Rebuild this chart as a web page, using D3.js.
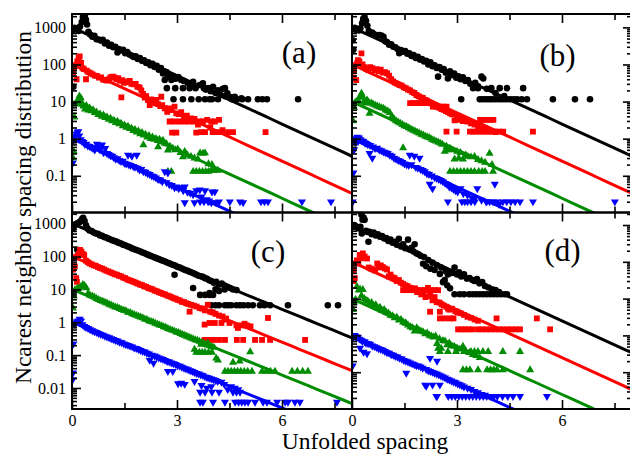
<!DOCTYPE html>
<html><head><meta charset="utf-8">
<script src="https://cdn.jsdelivr.net/npm/d3@7"></script>
<style>body{margin:0;background:#fff}svg{display:block}
svg text{font-family:"Liberation Serif","Times New Roman","DejaVu Serif",serif}</style>
</head><body>
<svg id="chart" width="630" height="459"></svg>
<script>
// Axis ticks and labels
const sMajorTicks = [0, 3, 6];
const sMinorTicks = [1.5, 4.5, 7.5];
const yMajorTicks = [1000, 100, 10, 1, 0.1, 0.01];
const yTickText = ["1000", "100", "10", "1", "0.1", "0.01"];
const fitAmplitudes = [1000, 100, 10, 1];
const panelNames = ["(a)", "(b)", "(c)", "(d)"];
const xTitle = "Unfolded spacing";
const yTitle = "Ncarest neighbor spacing distribution";

// Panel (a): [unfolded spacing, distribution]
const aBlack = [[0.02,60],[0.04,25],[0.03,850],[0.07,980],[0.11,900],[0.15,930],[0.19,800],[0.23,1050],[0.28,1400],[0.31,1900],[0.34,2600],[0.37,2100],[0.4,1600],[0.43,1200],[0.47,760],[0.52,640],[0.58,560],[0.64,590],[0.7,480],[0.76,470],[0.82,440],[0.88,460],[0.94,370],[1.0,390],[1.06,320],[1.12,340],[1.18,290],[1.24,300],[1.3,210],[1.34,260],[1.4,240],[1.46,250],[1.52,200],[1.58,215],[1.64,185],[1.7,175],[1.76,160],[1.82,165],[1.88,140],[1.94,150],[2.0,125],[2.06,130],[2.12,110],[2.18,115],[2.24,95],[2.3,105],[2.36,85],[2.42,92],[2.48,72],[2.54,80],[2.6,57],[2.62,66],[2.65,38],[2.7,62],[2.74,47],[2.8,52],[2.84,38],[2.9,45],[2.96,41],[3.04,46],[3.12,38],[3.2,36],[3.31,31],[3.38,29],[3.46,34],[3.55,26],[3.65,28],[3.74,31],[3.82,21],[3.89,23],[3.96,19],[4.03,25],[4.1,17],[4.17,20],[4.25,15],[4.31,22],[4.38,14],[4.44,16.6],[4.55,13],[4.65,13.5],[4.84,12.3],[2.71,23],[2.95,23],[3.17,23],[3.36,23],[3.53,23],[3.77,23],[4.37,23],[2.9,11.5],[3.17,11.5],[3.41,11.5],[3.62,11.5],[3.8,11.5],[3.93,11.5],[4.0,11.5],[4.17,11.5],[4.57,11.5],[4.71,11.5],[4.86,11.5],[5.03,11.5],[5.31,11.5],[5.44,11.5],[5.57,11.5],[6.46,11.5]];
const aRed = [[0.03,60],[0.06,85],[0.09,95],[0.13,40],[0.15,120],[0.19,150],[0.22,165],[0.26,110],[0.3,80],[0.34,75],[0.4,40],[0.42,68],[0.47,62],[0.53,58],[0.59,54],[0.65,50],[0.71,49],[0.77,44],[0.83,45],[0.89,39],[0.95,38],[1.01,37],[1.07,42],[1.12,46],[1.17,47],[1.22,44],[1.27,40],[1.32,43],[1.37,36],[1.41,13],[1.43,38],[1.48,32],[1.54,35],[1.6,33],[1.65,36],[1.7,30],[1.76,29],[1.82,30],[1.87,25],[1.93,24],[1.98,20],[2.03,16],[2.08,12.9],[2.12,14],[2.17,11],[2.22,8],[2.26,11.5],[2.32,10],[2.38,9],[2.41,11],[2.46,8.5],[2.52,7.5],[2.55,13.5],[2.58,8],[2.65,6.6],[2.72,5.3],[2.77,6.5],[2.84,5.9],[2.93,7.3],[2.98,4.8],[3.05,4.6],[3.12,5.2],[3.2,3.8],[3.28,4.2],[3.4,3.5],[3.5,3.4],[3.6,2.4],[3.95,2.0],[4.3,1.7],[2.79,2.9],[2.93,2.9],[3.08,2.9],[3.22,2.9],[3.36,2.9],[3.5,2.9],[3.65,2.9],[3.74,2.9],[3.86,3.2],[3.98,2.9],[4.08,2.9],[4.2,3.2],[2.86,1.45],[2.98,1.45],[3.55,1.45],[3.68,1.5],[3.8,1.5],[4.02,1.5],[4.15,1.5],[4.3,1.5],[4.46,1.5],[4.6,1.5],[5.53,1.5]];
const aGreen = [[0.03,0.3],[0.05,0.45],[0.07,3.8],[0.09,8.5],[0.13,9.5],[0.17,11],[0.21,14],[0.25,12.5],[0.29,9],[0.33,7.5],[0.37,6.2],[0.41,7.8],[0.46,5.9],[0.5,6.8],[0.55,5.6],[0.6,6.0],[0.65,5.0],[0.7,5.2],[0.75,4.4],[0.8,4.6],[0.85,4.0],[0.9,4.3],[0.95,3.7],[1.0,3.8],[1.05,3.3],[1.1,3.5],[1.15,3.0],[1.2,3.1],[1.25,2.7],[1.3,2.9],[1.35,2.5],[1.4,2.6],[1.45,2.2],[1.5,2.3],[1.55,2.0],[1.6,2.15],[1.65,1.85],[1.7,1.9],[1.75,1.65],[1.8,1.75],[1.85,1.5],[1.9,1.6],[1.95,1.35],[2.0,1.45],[2.04,0.68],[2.05,1.25],[2.1,1.3],[2.15,1.1],[2.2,1.2],[2.25,1.0],[2.3,1.1],[2.35,0.95],[2.4,1.0],[2.45,0.88],[2.46,0.6],[2.5,0.95],[2.55,0.82],[2.6,0.9],[2.65,0.75],[2.7,0.72],[2.74,0.49],[2.8,0.62],[2.88,0.55],[2.95,0.5],[3.02,0.52],[3.1,0.42],[3.17,0.32],[3.22,0.45],[3.3,0.36],[3.4,0.33],[3.5,0.3],[3.6,0.28],[3.66,0.41],[3.74,0.4],[3.8,0.41],[3.9,0.21],[4.0,0.2],[2.74,0.13],[2.84,0.13],[3.46,0.13],[3.55,0.13],[3.64,0.13],[3.73,0.13],[3.82,0.13],[3.9,0.13],[3.98,0.14],[4.07,0.14],[4.17,0.14]];
const aBlue = [[0.02,0.22],[0.04,0.9],[0.07,1.05],[0.1,1.2],[0.13,1.35],[0.16,1.5],[0.18,1.55],[0.21,1.2],[0.25,0.95],[0.29,0.85],[0.33,0.8],[0.37,0.7],[0.41,0.72],[0.45,0.64],[0.5,0.62],[0.55,0.58],[0.6,0.55],[0.65,0.5],[0.71,0.72],[0.76,0.6],[0.8,0.5],[0.86,0.68],[0.9,0.42],[0.95,0.55],[1.0,0.4],[1.05,0.38],[1.1,0.35],[1.15,0.34],[1.2,0.31],[1.25,0.28],[1.3,0.29],[1.35,0.26],[1.4,0.245],[1.45,0.25],[1.5,0.22],[1.55,0.21],[1.6,0.36],[1.62,0.2],[1.67,0.19],[1.71,0.34],[1.75,0.18],[1.8,0.17],[1.85,0.36],[1.88,0.16],[1.93,0.145],[1.98,0.15],[2.04,0.13],[2.1,0.125],[2.16,0.115],[2.22,0.11],[2.28,0.1],[2.34,0.095],[2.4,0.088],[2.46,0.08],[2.52,0.078],[2.58,0.07],[2.65,0.13],[2.7,0.066],[2.74,0.12],[2.78,0.058],[2.85,0.055],[2.93,0.048],[2.98,0.05],[3.05,0.045],[3.12,0.048],[3.18,0.04],[3.22,0.05],[3.3,0.036],[3.38,0.034],[3.46,0.031],[3.55,0.04],[3.65,0.042],[3.7,0.027],[3.8,0.04],[3.85,0.023],[3.92,0.021],[4.0,0.037],[4.08,0.037],[3.22,0.019],[3.5,0.019],[3.66,0.02],[3.77,0.02],[3.89,0.02],[3.98,0.019],[4.12,0.019],[4.2,0.02],[4.51,0.02],[4.8,0.02],[4.89,0.019],[5.4,0.02],[5.5,0.02],[5.6,0.02],[6.57,0.02],[7.4,0.02]];

// Panel (b)
const bBlack = [[0.02,450],[0.04,250],[0.05,900],[0.08,980],[0.12,850],[0.16,900],[0.2,820],[0.24,950],[0.29,1300],[0.32,1700],[0.36,1900],[0.4,1500],[0.44,1100],[0.48,800],[0.53,700],[0.58,720],[0.63,650],[0.68,620],[0.73,600],[0.78,620],[0.84,600],[0.9,560],[0.95,420],[1.0,400],[1.06,340],[1.12,350],[1.18,300],[1.24,290],[1.3,260],[1.35,200],[1.4,245],[1.46,220],[1.52,230],[1.58,195],[1.64,200],[1.7,170],[1.76,180],[1.82,150],[1.88,160],[1.94,135],[2.0,140],[2.06,120],[2.12,125],[2.18,100],[2.24,115],[2.3,90],[2.36,95],[2.42,80],[2.46,47],[2.5,85],[2.56,72],[2.62,75],[2.68,60],[2.74,42],[2.8,65],[2.84,51],[2.92,57],[2.98,44],[3.04,48],[3.1,40],[3.17,45],[3.24,36],[3.31,38],[3.38,30],[3.46,23],[3.52,32],[3.6,26],[3.7,47],[3.75,42],[3.85,22],[3.98,23],[4.1,17],[4.22,23],[4.35,14],[4.89,23],[3.12,11.5],[3.65,11.5],[3.72,11.5],[3.8,11.5],[3.88,11.5],[3.95,11.5],[4.02,11.5],[4.1,11.5],[4.18,11.5],[4.26,11.5],[4.34,11.5],[4.42,11.5],[4.52,11.5],[4.62,11.5],[4.72,11.5],[4.85,11.5],[5.0,11.5],[5.74,11.5],[6.37,11.5],[6.8,11.5],[3.6,23],[4.43,23]];
const bRed = [[0.03,45],[0.06,70],[0.09,95],[0.12,38],[0.15,110],[0.17,130],[0.21,120],[0.27,200],[0.3,100],[0.35,85],[0.4,78],[0.46,72],[0.52,85],[0.58,80],[0.64,70],[0.7,75],[0.76,65],[0.82,72],[0.88,60],[0.94,62],[1.0,58],[1.06,50],[1.12,40],[1.18,35],[1.24,32],[1.3,30],[1.36,28],[1.42,27],[1.48,24],[1.54,23],[1.6,21],[1.66,20],[1.72,18],[1.78,17],[1.84,15],[1.9,14],[1.96,13],[2.02,12.5],[2.08,11],[2.14,10.5],[2.2,9.5],[2.26,9],[2.32,8.2],[2.38,8],[2.44,7.2],[2.5,6.8],[2.56,6.3],[2.62,6],[2.68,5.5],[2.74,5.2],[2.8,4.8],[2.86,4.5],[2.93,3.1],[3.0,4.0],[3.05,3.2],[3.1,3.6],[3.17,3.0],[3.22,3.3],[3.3,2.9],[3.4,2.6],[3.5,2.4],[3.6,2.1],[3.72,1.9],[3.85,1.8],[3.98,1.6],[4.1,1.5],[1.66,9.1],[1.74,9.1],[1.82,9.1],[1.9,9.1],[1.98,9.1],[2.06,9.1],[2.12,9.1],[2.31,7.3],[2.4,7.3],[2.5,7.3],[2.6,7.3],[2.7,7.3],[3.66,3.2],[3.75,3.2],[3.84,3.2],[3.94,3.2],[4.04,3.2],[2.7,1.55],[2.99,1.55],[3.37,1.55],[3.46,1.55],[3.55,1.55],[3.64,1.55],[3.73,1.55],[3.82,1.55],[3.91,1.55],[4.0,1.55],[4.1,1.55],[4.2,1.55],[4.32,1.55],[5.17,1.55]];
const bGreen = [[0.03,3],[0.06,7],[0.09,9.5],[0.13,10],[0.17,11],[0.22,13],[0.27,16.5],[0.3,14],[0.34,10],[0.38,9],[0.43,11],[0.48,9.5],[0.5,4.8],[0.55,9],[0.6,8.5],[0.66,8],[0.72,7.5],[0.78,7.2],[0.84,6.8],[0.9,6.5],[0.96,5.9],[1.02,5.5],[1.08,5.0],[1.14,4.0],[1.2,3.4],[1.26,3.0],[1.32,2.8],[1.38,2.6],[1.44,2.4],[1.46,0.56],[1.5,2.2],[1.56,2.1],[1.62,1.95],[1.68,1.8],[1.74,1.7],[1.8,1.6],[1.86,1.5],[1.92,1.4],[1.98,1.3],[2.04,1.25],[2.1,1.15],[2.16,1.1],[2.22,1.05],[2.28,0.95],[2.34,0.9],[2.4,0.85],[2.46,0.8],[2.52,0.75],[2.58,0.7],[2.65,0.45],[2.7,0.62],[2.74,0.5],[2.8,0.55],[2.86,0.5],[2.93,0.28],[3.0,0.45],[3.05,0.3],[3.1,0.42],[3.17,0.28],[3.25,0.36],[3.31,0.33],[3.4,0.32],[3.5,0.33],[3.6,0.27],[3.7,0.25],[3.8,0.23],[3.93,0.4],[4.0,0.2],[2.8,0.13],[2.9,0.13],[3.0,0.13],[3.1,0.13],[3.2,0.13],[3.3,0.13],[3.4,0.13],[3.5,0.13],[3.62,0.13],[3.72,0.13],[3.8,0.13],[4.03,0.13]];
const bBlue = [[0.02,0.02],[0.04,0.12],[0.06,0.5],[0.09,0.8],[0.12,1.0],[0.15,1.1],[0.17,0.83],[0.2,1.05],[0.24,0.95],[0.28,0.88],[0.32,0.85],[0.36,0.78],[0.4,0.75],[0.45,0.7],[0.5,0.4],[0.52,0.66],[0.58,0.3],[0.6,0.6],[0.66,0.55],[0.72,0.56],[0.78,0.5],[0.84,0.48],[0.9,0.44],[0.96,0.42],[1.02,0.4],[1.08,0.36],[1.14,0.34],[1.2,0.3],[1.26,0.28],[1.32,0.26],[1.38,0.25],[1.44,0.23],[1.5,0.21],[1.56,0.2],[1.62,0.19],[1.65,0.36],[1.7,0.2],[1.78,0.34],[1.82,0.17],[1.88,0.16],[1.93,0.3],[1.96,0.15],[2.02,0.14],[2.08,0.13],[2.14,0.115],[2.2,0.11],[2.22,0.06],[2.28,0.1],[2.3,0.045],[2.36,0.09],[2.42,0.085],[2.48,0.08],[2.54,0.075],[2.6,0.07],[2.66,0.063],[2.72,0.058],[2.78,0.05],[2.84,0.047],[2.9,0.043],[2.96,0.04],[3.02,0.037],[3.1,0.045],[3.18,0.033],[3.3,0.03],[3.42,0.026],[3.5,0.024],[3.58,0.045],[3.7,0.022],[3.85,0.02],[4.08,0.06],[4.2,0.017],[2.74,0.02],[3.14,0.02],[3.22,0.02],[3.3,0.02],[3.4,0.02],[3.51,0.02],[3.83,0.02],[3.93,0.02],[4.03,0.02],[4.14,0.02],[4.31,0.02],[4.42,0.02],[4.54,0.02],[4.66,0.02],[4.8,0.02],[5.17,0.02],[7.51,0.02]];

// Panel (c)
const cBlack = [[0.03,700],[0.06,900],[0.1,950],[0.15,160],[0.13,1000],[0.17,1050],[0.21,1100],[0.25,1200],[0.29,1400],[0.32,1500],[0.36,1200],[0.4,900],[0.45,700],[0.5,620],[0.56,600],[0.62,540],[0.68,500],[0.74,490],[0.8,440],[0.86,430],[0.92,390],[0.98,380],[1.04,350],[1.1,330],[1.16,310],[1.22,295],[1.28,280],[1.34,260],[1.4,250],[1.46,230],[1.52,220],[1.58,205],[1.64,195],[1.7,180],[1.76,170],[1.82,160],[1.88,152],[1.94,145],[2.0,135],[2.06,128],[2.12,120],[2.18,112],[2.24,106],[2.3,100],[2.36,94],[2.42,88],[2.48,84],[2.54,78],[2.6,74],[2.66,70],[2.72,66],[2.78,62],[2.84,58],[2.9,55],[2.93,28],[2.96,52],[3.02,48],[3.08,46],[3.14,43],[3.2,40],[3.26,38],[3.32,36],[3.38,34],[3.44,32],[3.46,11],[3.5,30],[3.56,28],[3.62,26],[3.68,25],[3.74,24],[3.8,22],[3.86,21],[3.92,19],[3.93,7.7],[3.98,18],[4.05,16],[4.12,17],[4.2,14],[4.28,15],[4.36,13],[4.44,12],[4.52,11],[4.6,10],[4.7,9.5],[3.66,6.8],[3.8,6.8],[3.93,6.8],[4.03,6.8],[4.1,10],[4.2,9],[4.36,10],[3.98,3.3],[4.1,3.3],[4.2,3.3],[4.37,3.3],[4.46,3.3],[4.55,3.3],[4.7,3.3],[4.8,3.3],[4.9,3.3],[5.03,3.3],[5.17,3.3],[5.37,3.3],[5.5,3.3],[5.66,3.3],[6.17,3.3],[7.31,3.3],[7.6,3.3]];
const cRed = [[0.03,40],[0.06,50],[0.08,50],[0.12,22],[0.14,17],[0.11,95],[0.16,105],[0.2,120],[0.23,160],[0.27,140],[0.31,120],[0.35,110],[0.4,75],[0.45,68],[0.5,62],[0.56,58],[0.62,54],[0.68,52],[0.74,48],[0.8,45],[0.86,43],[0.92,40],[0.98,37],[1.04,35],[1.1,33],[1.16,31],[1.22,29],[1.28,28],[1.34,26],[1.4,25],[1.46,23],[1.52,22],[1.58,20],[1.64,19],[1.7,18],[1.76,17],[1.82,16],[1.88,15],[1.94,14],[2.0,13.5],[2.06,12.5],[2.12,12],[2.18,11],[2.24,10.5],[2.3,10],[2.36,9.2],[2.42,8.8],[2.48,8.2],[2.54,7.8],[2.6,7.3],[2.66,7],[2.72,6.5],[2.78,6.2],[2.84,5.8],[2.9,5.4],[2.96,5.2],[3.02,4.8],[3.08,4.6],[3.14,4.2],[3.2,4.1],[3.26,3.8],[3.32,3.6],[3.36,2.1],[3.4,3.4],[3.48,3.2],[3.56,3.0],[3.65,2.7],[3.72,2.6],[3.8,2.3],[3.88,3.4],[3.95,2.1],[4.02,2.0],[4.1,1.8],[4.2,1.6],[4.3,1.5],[4.4,1.3],[3.79,0.85],[3.93,0.95],[4.08,0.95],[4.27,0.95],[4.36,1.2],[4.5,0.95],[4.74,0.67],[4.7,0.8],[4.85,0.8],[5.0,0.8],[5.1,0.75],[4.93,0.9],[5.6,1.35],[3.79,0.29],[3.92,0.29],[4.05,0.29],[4.2,0.29],[4.37,0.29],[4.71,0.29],[4.89,0.29],[5.23,0.29],[5.43,0.29],[5.66,0.29],[6.66,0.29]];
const cGreen = [[0.03,2.7],[0.05,6.2],[0.08,9.5],[0.12,10],[0.16,10.5],[0.2,11],[0.25,12],[0.31,14],[0.36,13],[0.41,11],[0.46,7.5],[0.52,6.5],[0.58,6.2],[0.64,5.8],[0.7,5.2],[0.76,4.9],[0.82,4.5],[0.88,4.3],[0.94,4.0],[1.0,3.8],[1.06,3.5],[1.12,3.3],[1.18,3.1],[1.24,2.9],[1.3,2.8],[1.36,2.6],[1.42,2.4],[1.48,2.3],[1.54,2.2],[1.6,2.0],[1.66,1.95],[1.72,1.8],[1.78,1.7],[1.84,1.6],[1.9,1.5],[1.96,1.42],[2.02,1.35],[2.08,1.25],[2.14,1.2],[2.2,1.1],[2.26,1.05],[2.32,1.0],[2.38,0.92],[2.44,0.88],[2.5,0.82],[2.56,0.78],[2.62,0.72],[2.68,0.7],[2.74,0.64],[2.8,0.6],[2.86,0.57],[2.92,0.54],[2.98,0.5],[3.04,0.48],[3.1,0.45],[3.16,0.42],[3.22,0.4],[3.28,0.37],[3.34,0.35],[3.4,0.33],[3.46,0.31],[3.52,0.29],[3.58,0.28],[3.64,0.26],[3.7,0.24],[3.76,0.23],[3.82,0.21],[3.88,0.2],[3.94,0.19],[4.0,0.18],[4.06,0.17],[3.5,0.15],[3.69,0.21],[3.88,0.23],[4.12,0.08],[4.17,0.07],[4.6,0.06],[4.79,0.065],[5.09,0.126],[3.55,0.12],[3.64,0.12],[3.72,0.12],[3.8,0.12],[3.9,0.12],[4.0,0.12],[4.37,0.032],[4.46,0.032],[4.55,0.032],[4.64,0.032],[4.73,0.032],[4.82,0.032],[4.92,0.032],[5.02,0.032],[5.14,0.032],[5.43,0.032],[5.55,0.032],[5.67,0.032],[5.8,0.032],[6.29,0.032],[6.44,0.032],[6.59,0.032],[6.74,0.032]];
const cBlue = [[0.02,0.018],[0.03,0.029],[0.04,0.22],[0.06,0.9],[0.1,0.95],[0.14,1.05],[0.18,1.1],[0.22,1.25],[0.26,1.1],[0.3,0.85],[0.35,0.75],[0.4,0.7],[0.46,0.65],[0.52,0.6],[0.58,0.56],[0.64,0.52],[0.7,0.49],[0.76,0.46],[0.82,0.43],[0.88,0.41],[0.94,0.38],[1.0,0.36],[1.06,0.34],[1.12,0.32],[1.18,0.3],[1.24,0.28],[1.3,0.27],[1.36,0.25],[1.42,0.24],[1.48,0.22],[1.54,0.21],[1.6,0.2],[1.66,0.19],[1.72,0.18],[1.78,0.165],[1.84,0.16],[1.9,0.15],[1.96,0.14],[2.02,0.13],[2.08,0.125],[2.14,0.115],[2.2,0.11],[2.22,0.07],[2.28,0.1],[2.33,0.057],[2.36,0.095],[2.42,0.088],[2.48,0.083],[2.54,0.078],[2.6,0.074],[2.66,0.07],[2.72,0.065],[2.74,0.032],[2.78,0.062],[2.84,0.058],[2.88,0.032],[2.9,0.055],[2.96,0.052],[3.02,0.048],[3.03,0.0135],[3.08,0.046],[3.12,0.014],[3.14,0.043],[3.2,0.04],[3.22,0.013],[3.26,0.038],[3.32,0.036],[3.38,0.034],[3.44,0.032],[3.5,0.03],[3.5,0.016],[3.56,0.028],[3.62,0.027],[3.68,0.025],[3.7,0.012],[3.74,0.024],[3.8,0.022],[3.85,0.01],[3.86,0.021],[3.92,0.02],[3.98,0.019],[3.98,0.011],[4.04,0.018],[4.1,0.017],[4.16,0.016],[4.27,0.015],[4.35,0.013],[4.45,0.009],[4.55,0.011],[4.65,0.01],[4.75,0.009],[3.66,0.0075],[3.8,0.0075],[4.0,0.0075],[4.2,0.0075],[4.6,0.0075],[4.7,0.0075],[4.8,0.0075],[3.66,0.0037],[3.74,0.0037],[4.03,0.0037],[4.37,0.0037],[4.66,0.0037],[4.76,0.0037],[4.85,0.0037],[4.94,0.0037],[5.03,0.0037],[5.23,0.0037],[5.46,0.0037],[5.57,0.0037],[5.86,0.0037],[6.09,0.0037],[6.17,0.0037],[6.37,0.0037],[6.51,0.0037],[7.57,0.0037]];

// Panel (d)
const dBlack = [[0.03,900],[0.06,1000],[0.09,950],[0.12,880],[0.16,850],[0.2,800],[0.24,900],[0.27,1900],[0.3,1400],[0.33,1600],[0.36,1380],[0.28,590],[0.4,700],[0.44,650],[0.47,350],[0.5,650],[0.56,560],[0.62,620],[0.68,520],[0.74,560],[0.8,480],[0.86,500],[0.92,430],[0.98,440],[1.04,370],[1.1,400],[1.16,330],[1.22,350],[1.28,290],[1.34,420],[1.4,260],[1.46,300],[1.52,235],[1.6,400],[1.64,215],[1.7,240],[1.76,190],[1.79,300],[1.84,170],[1.9,160],[1.96,145],[2.03,89],[2.06,135],[2.12,76],[2.18,112],[2.24,65],[2.3,95],[2.36,60],[2.42,82],[2.51,47],[2.55,70],[2.6,28],[2.65,32],[2.68,55],[2.72,23],[2.74,45],[2.8,19],[2.86,50],[2.93,70],[3.0,45],[3.06,52],[3.12,40],[3.2,46],[3.28,35],[3.36,36],[3.44,32],[3.5,30],[3.57,34],[3.64,26],[3.72,28],[3.8,22],[3.9,20],[4.0,18],[4.1,17],[4.2,15],[2.93,13.2],[3.08,13.2],[3.2,13.2],[3.35,13.2],[3.45,13.2],[3.55,13.2],[3.65,13.2],[3.75,13.2],[3.85,13.2],[3.95,13.2],[4.05,13.2],[4.15,13.2],[4.25,13.2],[4.35,13.2],[4.43,13.2]];
const dRed = [[0.03,30],[0.05,60],[0.08,36],[0.1,90],[0.14,110],[0.18,95],[0.22,155],[0.27,125],[0.31,170],[0.36,140],[0.43,123],[0.48,70],[0.54,65],[0.6,62],[0.66,58],[0.72,90],[0.76,70],[0.82,80],[0.88,72],[0.94,66],[1.0,62],[1.05,40],[1.1,45],[1.16,38],[1.22,36],[1.28,30],[1.34,32],[1.4,27],[1.46,25],[1.52,23],[1.58,22],[1.64,20],[1.7,19],[1.76,17],[1.8,19],[1.86,15],[1.92,16],[1.98,13],[2.04,14],[2.1,11],[2.17,19.6],[2.23,12],[2.3,9],[2.36,11],[2.42,8],[2.5,7.8],[2.56,7],[2.62,6.5],[2.7,6],[2.78,5],[2.86,5.3],[2.95,4.6],[3.02,4.2],[3.1,4.0],[3.2,3.6],[3.3,3.2],[3.4,3.0],[3.5,2.7],[3.6,2.5],[1.46,17],[1.56,17],[1.66,17],[1.76,17],[1.86,17],[1.96,17],[2.06,17],[2.16,17],[2.26,17],[2.36,17],[2.46,17],[2.23,4.4],[2.51,4.4],[2.74,5.4],[3.0,4.4],[2.51,2.9],[2.65,2.9],[2.8,2.9],[2.9,2.9],[4.13,2.9],[5.28,2.9],[3.03,1.46],[3.13,1.46],[3.23,1.46],[3.33,1.46],[3.43,1.46],[3.6,1.46],[3.72,1.46],[3.84,1.46],[3.96,1.46],[4.08,1.46],[4.2,1.46],[4.32,1.46],[4.44,1.46],[4.56,1.46],[4.68,1.46],[4.8,1.46],[5.66,1.46]];
const dGreen = [[0.03,5],[0.06,8],[0.1,9.5],[0.14,21],[0.19,17],[0.23,18],[0.27,12],[0.31,17.5],[0.35,10],[0.4,9],[0.45,8.5],[0.5,7.5],[0.56,7.8],[0.62,6.5],[0.68,6.8],[0.74,5.5],[0.8,5.8],[0.86,4.7],[0.92,5.0],[0.98,4.2],[1.04,4.0],[1.1,3.5],[1.16,3.4],[1.22,3.0],[1.28,3.1],[1.34,2.6],[1.4,2.7],[1.46,2.3],[1.52,2.2],[1.55,2.1],[1.6,1.9],[1.67,1.7],[1.73,1.6],[1.79,1.3],[1.85,1.6],[1.91,1.4],[1.97,1.3],[2.03,1.25],[2.09,1.1],[2.15,1.15],[2.21,1.0],[2.27,0.95],[2.33,0.9],[2.39,0.95],[2.43,0.6],[2.46,0.44],[2.5,0.8],[2.55,0.44],[2.6,0.72],[2.66,0.7],[2.72,0.55],[2.78,0.62],[2.85,0.52],[2.92,0.5],[3.0,0.45],[3.08,0.42],[3.17,0.5],[3.25,0.38],[3.35,0.34],[3.45,0.3],[3.55,0.28],[3.65,0.25],[2.51,0.36],[2.74,0.36],[2.97,0.36],[3.2,0.36],[3.4,0.36],[3.5,0.36],[3.6,0.36],[3.74,0.36],[3.89,0.36],[4.31,0.36],[4.8,0.36],[3.17,0.115],[3.27,0.115],[3.37,0.115],[3.6,0.115],[3.86,0.115],[3.96,0.115],[4.05,0.115],[4.14,0.115],[4.31,0.115],[5.09,0.115]];
const dBlue = [[0.02,0.15],[0.04,0.9],[0.07,1.0],[0.1,0.95],[0.13,0.85],[0.17,0.9],[0.21,0.8],[0.23,0.45],[0.26,0.75],[0.3,0.7],[0.33,0.35],[0.36,0.68],[0.4,0.62],[0.43,0.32],[0.46,0.6],[0.52,0.58],[0.58,0.52],[0.64,0.5],[0.7,0.47],[0.76,0.44],[0.82,0.42],[0.88,0.4],[0.94,0.37],[1.0,0.34],[1.06,0.33],[1.12,0.3],[1.18,0.29],[1.24,0.27],[1.3,0.26],[1.36,0.24],[1.42,0.23],[1.48,0.21],[1.54,0.2],[1.55,0.095],[1.6,0.19],[1.66,0.18],[1.72,0.17],[1.78,0.16],[1.84,0.15],[1.9,0.15],[1.96,0.14],[2.02,0.13],[2.09,0.045],[2.12,0.12],[2.12,0.042],[2.18,0.11],[2.23,0.24],[2.24,0.105],[2.3,0.1],[2.3,0.045],[2.36,0.095],[2.41,0.022],[2.42,0.09],[2.43,0.2],[2.48,0.085],[2.51,0.045],[2.54,0.08],[2.6,0.075],[2.66,0.07],[2.72,0.065],[2.78,0.062],[2.84,0.058],[2.9,0.055],[2.96,0.052],[3.02,0.048],[3.08,0.046],[3.14,0.043],[3.2,0.04],[3.3,0.037],[3.4,0.034],[3.5,0.03],[3.6,0.028],[3.7,0.025],[3.8,0.024],[2.43,0.022],[2.75,0.022],[2.85,0.022],[2.95,0.022],[3.05,0.022],[3.15,0.022],[3.25,0.022],[3.35,0.022],[3.45,0.022],[3.55,0.022],[3.65,0.022],[3.75,0.022],[3.85,0.022],[3.95,0.022],[4.05,0.022],[4.15,0.022],[4.3,0.022],[4.45,0.022],[4.6,0.022],[4.8,0.022],[5.57,0.022]];

const seriesColors = ["#000000", "#ff0000", "#008c00", "#0000ff"];
const seriesSymbols = [d3.symbolCircle, d3.symbolSquare, d3.symbolTriangle, d3.symbolTriangle];
const seriesSizes = [34, 34, 28, 28];
const seriesRotate = [0, 0, 0, 180];

const FONT = "'Liberation Serif', 'Times New Roman', 'DejaVu Serif', serif";
const svg = d3.select("#chart");
svg.append("rect").attr("width", 630).attr("height", 459).attr("fill", "#fff");

const colX = [[72, 352], [352, 632]];
const rowY = [[14, 212.5], [212.5, 409]];

const panels = [
  {col: 0, row: 0, lo: -1.99, hi: 3.36, series: [aBlack, aRed, aGreen, aBlue], lx: 299, ly: 63, labels: true},
  {col: 1, row: 0, lo: -1.99, hi: 3.36, series: [bBlack, bRed, bGreen, bBlue], lx: 557.5, ly: 65.5, labels: false},
  {col: 0, row: 1, lo: -2.64, hi: 3.34, series: [cBlack, cRed, cGreen, cBlue], lx: 268, ly: 262, labels: true},
  {col: 1, row: 1, lo: -2.0, hi: 3.34, series: [dBlack, dRed, dGreen, dBlue], lx: 562.5, ly: 260.5, labels: false}
];

panels.forEach((p, i) => {
  const [x0, x1] = colX[p.col];
  const [y0, y1] = rowY[p.row];
  const x = d3.scaleLinear().domain([0, 8]).range([x0, x1]);
  const y = d3.scaleLog().domain([Math.pow(10, p.lo), Math.pow(10, p.hi)]).range([y1, y0]);
  const g = svg.append("g");
  const clipId = "clip" + i;
  svg.append("clipPath").attr("id", clipId).append("rect")
    .attr("x", x0).attr("y", y0).attr("width", x1 - x0).attr("height", y1 - y0);
  const plot = g.append("g").attr("clip-path", `url(#${clipId})`);

  // data markers
  p.series.forEach((pts, k) => {
    const sym = d3.symbol().type(seriesSymbols[k]).size(seriesSizes[k]);
    plot.append("g").selectAll("path").data(pts).join("path")
      .attr("d", sym)
      .attr("transform", d => `translate(${x(d[0])},${y(d[1])}) rotate(${seriesRotate[k]})`)
      .attr("fill", seriesColors[k]);
  });

  // exponential fits A*exp(-s)
  const line = d3.line().x(d => x(d[0])).y(d => y(d[1]));
  fitAmplitudes.forEach((A, k) => {
    const pts = d3.range(0, 8.01, 0.25).map(s => [s, A * Math.exp(-s)]);
    plot.append("path").datum(pts).attr("d", line)
      .attr("fill", "none").attr("stroke", seriesColors[k]).attr("stroke-width", 3);
  });

  // minor log ticks
  const minor = [];
  for (let e = -3; e <= 3; e++) for (let m = 2; m <= 9; m++) {
    const v = m * Math.pow(10, e);
    if (Math.log10(v) > p.lo + 0.01 && Math.log10(v) < p.hi - 0.01) minor.push(v);
  }
  const majors = yMajorTicks.filter(v => Math.log10(v) > p.lo + 0.05 && Math.log10(v) < p.hi);

  const axStyle = sel => {
    sel.attr("font-family", FONT);
    sel.select(".domain").remove();
    sel.selectAll("line").attr("stroke", "#000").attr("stroke-width", 1.6);
    sel.selectAll("text").style("font-family", FONT).attr("font-size", 16).attr("fill", "#000");
  };

  // left axis
  const left = d3.axisLeft(y).tickValues(majors).tickSize(-9).tickPadding(6)
    .tickFormat(v => p.labels ? yTickText[yMajorTicks.indexOf(v)] : "");
  g.append("g").attr("transform", `translate(${x0},0)`).call(left).call(axStyle);
  g.append("g").attr("transform", `translate(${x0},0)`)
    .call(d3.axisLeft(y).tickValues(minor).tickSize(-5).tickFormat("")).call(axStyle);

  // right axis on the right-hand panels
  if (p.col === 1) {
    g.append("g").attr("transform", `translate(${x1},0)`)
      .call(d3.axisRight(y).tickValues(majors).tickSize(-9).tickFormat("")).call(axStyle);
    g.append("g").attr("transform", `translate(${x1},0)`)
      .call(d3.axisRight(y).tickValues(minor).tickSize(-5).tickFormat("")).call(axStyle);
  }

  // bottom and top axes
  const bottom = d3.axisBottom(x).tickValues(sMajorTicks).tickSize(-9).tickPadding(6)
    .tickFormat(v => p.row === 1 ? String(v) : "");
  g.append("g").attr("transform", `translate(0,${y1})`).call(bottom).call(axStyle);
  g.append("g").attr("transform", `translate(0,${y1})`)
    .call(d3.axisBottom(x).tickValues(sMinorTicks).tickSize(-6).tickFormat("")).call(axStyle);
  g.append("g").attr("transform", `translate(0,${y0})`)
    .call(d3.axisTop(x).tickValues(sMajorTicks.filter(v => v > 0)).tickSize(-9).tickFormat("")).call(axStyle);
  g.append("g").attr("transform", `translate(0,${y0})`)
    .call(d3.axisTop(x).tickValues(sMinorTicks).tickSize(-6).tickFormat("")).call(axStyle);

  // frame
  g.append("rect").attr("x", x0).attr("y", y0).attr("width", x1 - x0).attr("height", y1 - y0)
    .attr("fill", "none").attr("stroke", "#000").attr("stroke-width", 2);

  // panel tag
  g.append("text").attr("x", p.lx).attr("y", p.ly).attr("text-anchor", "middle")
    .style("font-family", FONT).attr("font-size", 31).text(panelNames[i]);
});

svg.append("text").attr("x", 365).attr("y", 449).attr("text-anchor", "middle")
  .style("font-family", FONT).attr("font-size", 23.5).text(xTitle);
svg.append("text").attr("transform", "translate(30.5,207.5) rotate(-90)").attr("text-anchor", "middle")
  .style("font-family", FONT).attr("font-size", 23.5).text(yTitle);
</script>
</body></html>
